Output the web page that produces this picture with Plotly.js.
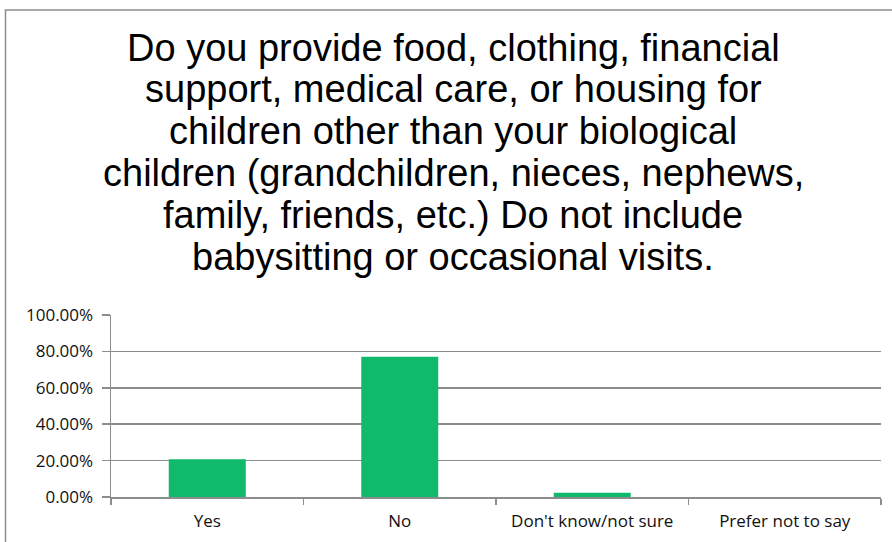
<!DOCTYPE html>
<html>
<head>
<meta charset="utf-8">
<script src="https://cdn.plot.ly/plotly-3.0.1.min.js"></script>
<style>html,body{margin:0;padding:0;background:#fff;}#chart{width:892px;height:542px;}</style>
</head>
<body>
<div id="chart"></div>
<script>
const categories = ["Yes", "No", "Don't know/not sure", "Prefer not to say"];
const values = [0.2069, 0.7701, 0.0230, 0];
const titleLines = [
  "Do you provide food, clothing, financial",
  "support, medical care, or housing for",
  "children other than your biological",
  "children (grandchildren, nieces, nephews,",
  "family, friends, etc.) Do not include",
  "babysitting or occasional visits."
];

const trace = {
  type: 'bar',
  x: categories,
  y: values,
  marker: {color: '#0fbb6a'},
  hoverinfo: 'x+y'
};

// plot area: left 111, right 881, top 315, bottom 497
const plotTop = 315, plotBottom = 497, plotH = plotBottom - plotTop;
const baselines = [61, 102, 144, 186, 228, 270];
const titleSize = 38;
const annotations = titleLines.map((t, i) => ({
  text: t,
  xref: 'paper', yref: 'paper',
  x: 0.4448, xanchor: 'center',
  y: (plotBottom - (baselines[i] - 0.34 * titleSize)) / plotH,
  yanchor: 'middle',
  showarrow: false,
  font: {family: 'Liberation Sans, Arial, sans-serif', size: titleSize, color: '#000000'}
}));

const layout = {
  width: 892,
  height: 542,
  margin: {l: 111, r: 11, t: 315, b: 45, pad: 0},
  paper_bgcolor: '#ffffff',
  plot_bgcolor: '#ffffff',
  showlegend: false,
  bargap: 0.6,
  annotations: annotations,
  xaxis: {
    type: 'category',
    tickson: 'boundaries',
    ticks: 'outside',
    ticklen: 6,
    tickcolor: '#8c8c8c',
    tickwidth: 1.5,
    showline: true,
    linecolor: '#8c8c8c',
    linewidth: 1.5,
    showgrid: false,
    ticklabelstandoff: 8,
    tickfont: {family: 'Open Sans, Liberation Sans, sans-serif', size: 17, color: '#111111'},
    fixedrange: true
  },
  yaxis: {
    range: [0, 1],
    dtick: 0.2,
    tick0: 0,
    tickformat: '.2%',
    ticks: 'outside',
    ticklen: 8,
    tickcolor: '#8c8c8c',
    tickwidth: 1.5,
    showline: true,
    linecolor: '#8c8c8c',
    linewidth: 1.5,
    showgrid: true,
    gridcolor: '#8c8c8c',
    gridwidth: 1.5,
    zeroline: false,
    ticklabelstandoff: 5,
    tickfont: {family: 'Open Sans, Liberation Sans, sans-serif', size: 17, color: '#111111'},
    fixedrange: true
  },
  shapes: [{
    type: 'rect',
    xref: 'paper', yref: 'paper',
    x0: -0.137, x1: 1.03,
    y0: -0.3, y1: 2.676,
    line: {color: '#8c8c8c', width: 1.5},
    fillcolor: 'rgba(0,0,0,0)',
    layer: 'below'
  }]
};

Plotly.newPlot('chart', [trace], layout, {displayModeBar: false, staticPlot: true});
</script>
</body>
</html>
